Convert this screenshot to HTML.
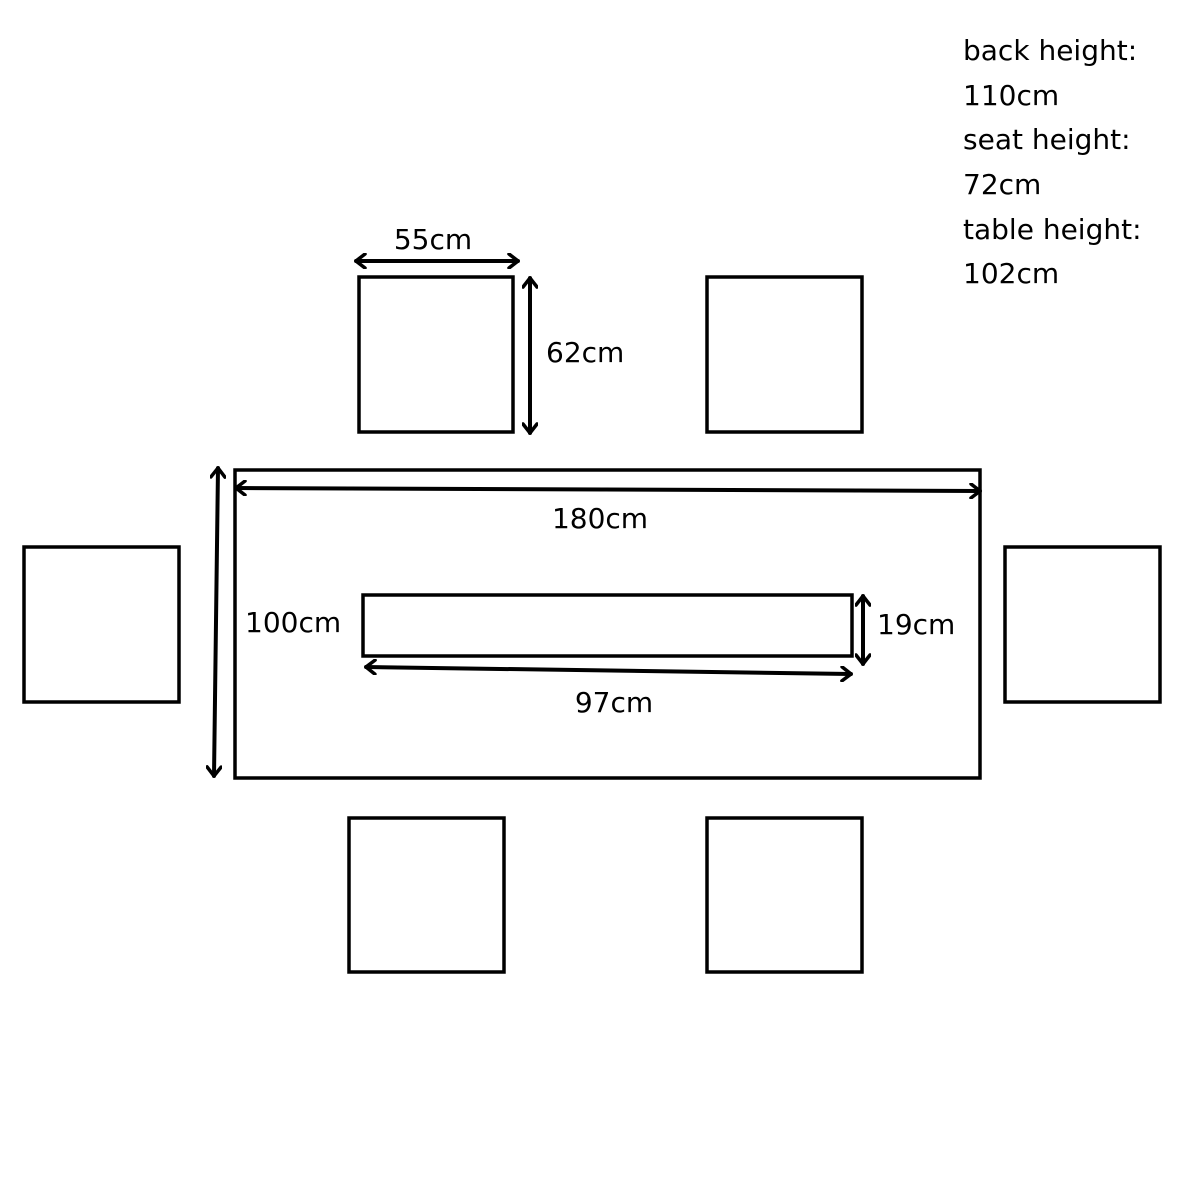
<!DOCTYPE html>
<html><head><meta charset="utf-8"><style>html,body{margin:0;padding:0;background:#fff}svg{display:block}text{font-family:"DejaVu Sans","Liberation Sans",sans-serif;font-size:28px;fill:#000}</style></head>
<body>
<svg width="1200" height="1200" viewBox="0 0 1200 1200">
<defs>
<marker id="a" viewBox="0 0 12 16" refX="11" refY="8" markerWidth="12" markerHeight="16" markerUnits="userSpaceOnUse" orient="auto-start-reverse">
<path d="M2 1 L11 8 L2 15" fill="none" stroke="#000" stroke-width="3.5" stroke-linecap="round" stroke-linejoin="round"/>
</marker>
</defs>
<g fill="none" stroke="#000" stroke-width="3.5">
<rect x="359" y="277" width="154" height="155"/>
<rect x="707" y="277" width="155" height="155"/>
<rect x="24" y="547" width="155" height="155"/>
<rect x="1005" y="547" width="155" height="155"/>
<rect x="349" y="818" width="155" height="154"/>
<rect x="707" y="818" width="155" height="154"/>
<rect x="235" y="470" width="745" height="308"/>
<rect x="363" y="595" width="489" height="61"/>
</g>
<g stroke="#000" stroke-width="4" marker-start="url(#a)" marker-end="url(#a)" stroke-linecap="round">
<line x1="356" y1="261" x2="518" y2="261"/>
<line x1="530" y1="278" x2="530" y2="433"/>
<line x1="236" y1="488" x2="980" y2="491"/>
<line x1="218" y1="468" x2="214" y2="776"/>
<line x1="863" y1="596" x2="863" y2="664"/>
<line x1="366" y1="667" x2="851" y2="674"/>
</g>
<text x="433" y="249" text-anchor="middle">55cm</text>
<text x="546" y="362">62cm</text>
<text x="600" y="528" text-anchor="middle">180cm</text>
<text x="245" y="632">100cm</text>
<text x="877" y="634">19cm</text>
<text x="614" y="712" text-anchor="middle">97cm</text>
<g style="font-size:28px">
<text x="963" y="60">back height:</text>
<text x="963" y="105">110cm</text>
<text x="963" y="149">seat height:</text>
<text x="963" y="194">72cm</text>
<text x="963" y="239">table height:</text>
<text x="963" y="283">102cm</text>
</g>
</svg>
</body></html>
